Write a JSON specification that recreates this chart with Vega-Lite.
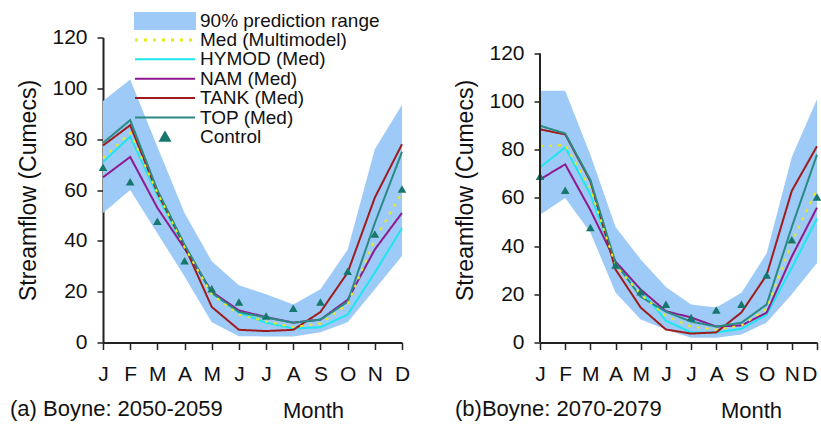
{
  "$schema": "https://vega.github.io/schema/vega-lite/v6.json",
  "background": "white",
  "padding": {"left": 10, "top": 11.5, "right": 0, "bottom": 0},
  "config": {
    "font": "Liberation Sans",
    "view": {"stroke": null},
    "axis": {"domainColor": "#222222", "domainWidth": 2, "tickColor": "#222222", "tickWidth": 1.5, "labelColor": "#111111", "titleColor": "#111111", "labelFont": "Liberation Sans", "titleFont": "Liberation Sans", "titleFontWeight": "normal", "grid": false, "labelOverlap": false},
    "title": {"font": "Liberation Sans", "fontSize": 22, "fontWeight": "normal", "color": "#111111"},
    "legend": {"orient": "none", "legendX": 31, "legendY": -25.5, "title": null, "padding": 0, "symbolSize": 3600, "symbolStrokeWidth": 2, "clipHeight": 17, "rowPadding": -0.6, "labelFontSize": 19, "labelFont": "Liberation Sans", "labelColor": "#111111", "symbolOffset": 21.5, "labelOffset": 25.5, "labelLimit": 400}
  },
  "datasets": {
    "band": [
      {"panel": "a", "month": 1, "lo": 51, "hi": 95},
      {"panel": "a", "month": 2, "lo": 60, "hi": 103.5},
      {"panel": "a", "month": 3, "lo": 43, "hi": 77},
      {"panel": "a", "month": 4, "lo": 26, "hi": 51},
      {"panel": "a", "month": 5, "lo": 8, "hi": 32},
      {"panel": "a", "month": 6, "lo": 2.5, "hi": 22.5},
      {"panel": "a", "month": 7, "lo": 2.4, "hi": 19},
      {"panel": "a", "month": 8, "lo": 2.4, "hi": 15},
      {"panel": "a", "month": 9, "lo": 4, "hi": 21},
      {"panel": "a", "month": 10, "lo": 8, "hi": 36.5},
      {"panel": "a", "month": 11, "lo": 21, "hi": 76},
      {"panel": "a", "month": 12, "lo": 34, "hi": 93.5},
      {"panel": "b", "month": 1, "lo": 53, "hi": 104.5},
      {"panel": "b", "month": 2, "lo": 60, "hi": 104.5},
      {"panel": "b", "month": 3, "lo": 45.7, "hi": 78},
      {"panel": "b", "month": 4, "lo": 20.8, "hi": 48},
      {"panel": "b", "month": 5, "lo": 9.5, "hi": 34.5},
      {"panel": "b", "month": 6, "lo": 5.4, "hi": 23},
      {"panel": "b", "month": 7, "lo": 2, "hi": 15.8},
      {"panel": "b", "month": 8, "lo": 2, "hi": 14.5},
      {"panel": "b", "month": 9, "lo": 3.3, "hi": 20.7},
      {"panel": "b", "month": 10, "lo": 8.3, "hi": 37},
      {"panel": "b", "month": 11, "lo": 20, "hi": 77},
      {"panel": "b", "month": 12, "lo": 33, "hi": 101}
    ],
    "control": [
      {"month": 1, "value": 69},
      {"month": 2, "value": 63.2},
      {"month": 3, "value": 47.7},
      {"month": 4, "value": 32.2},
      {"month": 5, "value": 21.1},
      {"month": 6, "value": 15.9},
      {"month": 7, "value": 10.4},
      {"month": 8, "value": 13.5},
      {"month": 9, "value": 15.9},
      {"month": 10, "value": 28},
      {"month": 11, "value": 42.7},
      {"month": 12, "value": 60.4}
    ],
    "lines": [
      {"panel": "a", "series": "HYMOD (Med)", "month": 1, "value": 71},
      {"panel": "a", "series": "HYMOD (Med)", "month": 2, "value": 81},
      {"panel": "a", "series": "HYMOD (Med)", "month": 3, "value": 58},
      {"panel": "a", "series": "HYMOD (Med)", "month": 4, "value": 37},
      {"panel": "a", "series": "HYMOD (Med)", "month": 5, "value": 19.5},
      {"panel": "a", "series": "HYMOD (Med)", "month": 6, "value": 11.8},
      {"panel": "a", "series": "HYMOD (Med)", "month": 7, "value": 7.8},
      {"panel": "a", "series": "HYMOD (Med)", "month": 8, "value": 5.5},
      {"panel": "a", "series": "HYMOD (Med)", "month": 9, "value": 6},
      {"panel": "a", "series": "HYMOD (Med)", "month": 10, "value": 11},
      {"panel": "a", "series": "HYMOD (Med)", "month": 11, "value": 27.5},
      {"panel": "a", "series": "HYMOD (Med)", "month": 12, "value": 45},
      {"panel": "a", "series": "NAM (Med)", "month": 1, "value": 65},
      {"panel": "a", "series": "NAM (Med)", "month": 2, "value": 73},
      {"panel": "a", "series": "NAM (Med)", "month": 3, "value": 53},
      {"panel": "a", "series": "NAM (Med)", "month": 4, "value": 37},
      {"panel": "a", "series": "NAM (Med)", "month": 5, "value": 20},
      {"panel": "a", "series": "NAM (Med)", "month": 6, "value": 12.6},
      {"panel": "a", "series": "NAM (Med)", "month": 7, "value": 10},
      {"panel": "a", "series": "NAM (Med)", "month": 8, "value": 7.8},
      {"panel": "a", "series": "NAM (Med)", "month": 9, "value": 9},
      {"panel": "a", "series": "NAM (Med)", "month": 10, "value": 16.8},
      {"panel": "a", "series": "NAM (Med)", "month": 11, "value": 36.6},
      {"panel": "a", "series": "NAM (Med)", "month": 12, "value": 51},
      {"panel": "a", "series": "TANK (Med)", "month": 1, "value": 77.5},
      {"panel": "a", "series": "TANK (Med)", "month": 2, "value": 85.5},
      {"panel": "a", "series": "TANK (Med)", "month": 3, "value": 59},
      {"panel": "a", "series": "TANK (Med)", "month": 4, "value": 38},
      {"panel": "a", "series": "TANK (Med)", "month": 5, "value": 14},
      {"panel": "a", "series": "TANK (Med)", "month": 6, "value": 5},
      {"panel": "a", "series": "TANK (Med)", "month": 7, "value": 4.5},
      {"panel": "a", "series": "TANK (Med)", "month": 8, "value": 5},
      {"panel": "a", "series": "TANK (Med)", "month": 9, "value": 12},
      {"panel": "a", "series": "TANK (Med)", "month": 10, "value": 27.5},
      {"panel": "a", "series": "TANK (Med)", "month": 11, "value": 57},
      {"panel": "a", "series": "TANK (Med)", "month": 12, "value": 78},
      {"panel": "a", "series": "TOP (Med)", "month": 1, "value": 78.5},
      {"panel": "a", "series": "TOP (Med)", "month": 2, "value": 87.5},
      {"panel": "a", "series": "TOP (Med)", "month": 3, "value": 60},
      {"panel": "a", "series": "TOP (Med)", "month": 4, "value": 38.5},
      {"panel": "a", "series": "TOP (Med)", "month": 5, "value": 19.5},
      {"panel": "a", "series": "TOP (Med)", "month": 6, "value": 12},
      {"panel": "a", "series": "TOP (Med)", "month": 7, "value": 9.8},
      {"panel": "a", "series": "TOP (Med)", "month": 8, "value": 7.8},
      {"panel": "a", "series": "TOP (Med)", "month": 9, "value": 9},
      {"panel": "a", "series": "TOP (Med)", "month": 10, "value": 16},
      {"panel": "a", "series": "TOP (Med)", "month": 11, "value": 47},
      {"panel": "a", "series": "TOP (Med)", "month": 12, "value": 75},
      {"panel": "a", "series": "Med (Multimodel)", "month": 1, "value": 72.5},
      {"panel": "a", "series": "Med (Multimodel)", "month": 2, "value": 82.5},
      {"panel": "a", "series": "Med (Multimodel)", "month": 3, "value": 59},
      {"panel": "a", "series": "Med (Multimodel)", "month": 4, "value": 37.5},
      {"panel": "a", "series": "Med (Multimodel)", "month": 5, "value": 19},
      {"panel": "a", "series": "Med (Multimodel)", "month": 6, "value": 11},
      {"panel": "a", "series": "Med (Multimodel)", "month": 7, "value": 8.3},
      {"panel": "a", "series": "Med (Multimodel)", "month": 8, "value": 6},
      {"panel": "a", "series": "Med (Multimodel)", "month": 9, "value": 7.5},
      {"panel": "a", "series": "Med (Multimodel)", "month": 10, "value": 15},
      {"panel": "a", "series": "Med (Multimodel)", "month": 11, "value": 40.5},
      {"panel": "a", "series": "Med (Multimodel)", "month": 12, "value": 59},
      {"panel": "b", "series": "HYMOD (Med)", "month": 1, "value": 72.7},
      {"panel": "b", "series": "HYMOD (Med)", "month": 2, "value": 81},
      {"panel": "b", "series": "HYMOD (Med)", "month": 3, "value": 61.5},
      {"panel": "b", "series": "HYMOD (Med)", "month": 4, "value": 32.5},
      {"panel": "b", "series": "HYMOD (Med)", "month": 5, "value": 22},
      {"panel": "b", "series": "HYMOD (Med)", "month": 6, "value": 9},
      {"panel": "b", "series": "HYMOD (Med)", "month": 7, "value": 4.2},
      {"panel": "b", "series": "HYMOD (Med)", "month": 8, "value": 4.2},
      {"panel": "b", "series": "HYMOD (Med)", "month": 9, "value": 5.7},
      {"panel": "b", "series": "HYMOD (Med)", "month": 10, "value": 11.6},
      {"panel": "b", "series": "HYMOD (Med)", "month": 11, "value": 31},
      {"panel": "b", "series": "HYMOD (Med)", "month": 12, "value": 51.5},
      {"panel": "b", "series": "NAM (Med)", "month": 1, "value": 67.7},
      {"panel": "b", "series": "NAM (Med)", "month": 2, "value": 74},
      {"panel": "b", "series": "NAM (Med)", "month": 3, "value": 55},
      {"panel": "b", "series": "NAM (Med)", "month": 4, "value": 33.6},
      {"panel": "b", "series": "NAM (Med)", "month": 5, "value": 22},
      {"panel": "b", "series": "NAM (Med)", "month": 6, "value": 13},
      {"panel": "b", "series": "NAM (Med)", "month": 7, "value": 10.4},
      {"panel": "b", "series": "NAM (Med)", "month": 8, "value": 6.6},
      {"panel": "b", "series": "NAM (Med)", "month": 9, "value": 7.1},
      {"panel": "b", "series": "NAM (Med)", "month": 10, "value": 12.4},
      {"panel": "b", "series": "NAM (Med)", "month": 11, "value": 35.7},
      {"panel": "b", "series": "NAM (Med)", "month": 12, "value": 56},
      {"panel": "b", "series": "TANK (Med)", "month": 1, "value": 88.5},
      {"panel": "b", "series": "TANK (Med)", "month": 2, "value": 86.4},
      {"panel": "b", "series": "TANK (Med)", "month": 3, "value": 67},
      {"panel": "b", "series": "TANK (Med)", "month": 4, "value": 30.3},
      {"panel": "b", "series": "TANK (Med)", "month": 5, "value": 14.5},
      {"panel": "b", "series": "TANK (Med)", "month": 6, "value": 5.4},
      {"panel": "b", "series": "TANK (Med)", "month": 7, "value": 3.7},
      {"panel": "b", "series": "TANK (Med)", "month": 8, "value": 4.2},
      {"panel": "b", "series": "TANK (Med)", "month": 9, "value": 12.5},
      {"panel": "b", "series": "TANK (Med)", "month": 10, "value": 28},
      {"panel": "b", "series": "TANK (Med)", "month": 11, "value": 63},
      {"panel": "b", "series": "TANK (Med)", "month": 12, "value": 81.5},
      {"panel": "b", "series": "TOP (Med)", "month": 1, "value": 90},
      {"panel": "b", "series": "TOP (Med)", "month": 2, "value": 86.8},
      {"panel": "b", "series": "TOP (Med)", "month": 3, "value": 67.5},
      {"panel": "b", "series": "TOP (Med)", "month": 4, "value": 33},
      {"panel": "b", "series": "TOP (Med)", "month": 5, "value": 19},
      {"panel": "b", "series": "TOP (Med)", "month": 6, "value": 12.8},
      {"panel": "b", "series": "TOP (Med)", "month": 7, "value": 8.7},
      {"panel": "b", "series": "TOP (Med)", "month": 8, "value": 6.6},
      {"panel": "b", "series": "TOP (Med)", "month": 9, "value": 8.2},
      {"panel": "b", "series": "TOP (Med)", "month": 10, "value": 15.8},
      {"panel": "b", "series": "TOP (Med)", "month": 11, "value": 48},
      {"panel": "b", "series": "TOP (Med)", "month": 12, "value": 78},
      {"panel": "b", "series": "Med (Multimodel)", "month": 1, "value": 81.5},
      {"panel": "b", "series": "Med (Multimodel)", "month": 2, "value": 82},
      {"panel": "b", "series": "Med (Multimodel)", "month": 3, "value": 64},
      {"panel": "b", "series": "Med (Multimodel)", "month": 4, "value": 32},
      {"panel": "b", "series": "Med (Multimodel)", "month": 5, "value": 20},
      {"panel": "b", "series": "Med (Multimodel)", "month": 6, "value": 11},
      {"panel": "b", "series": "Med (Multimodel)", "month": 7, "value": 6.6},
      {"panel": "b", "series": "Med (Multimodel)", "month": 8, "value": 5.4},
      {"panel": "b", "series": "Med (Multimodel)", "month": 9, "value": 7},
      {"panel": "b", "series": "Med (Multimodel)", "month": 10, "value": 14},
      {"panel": "b", "series": "Med (Multimodel)", "month": 11, "value": 41.5},
      {"panel": "b", "series": "Med (Multimodel)", "month": 12, "value": 64}
    ],
    "axisline": [{"month": 1, "lo": 0, "hi": 120}]
  },
  "bounds": "flush",
  "spacing": 138,
  "resolve": {"scale": {"color": "independent"}},
  "hconcat": [
    {
      "width": 299,
      "height": 305,
      "title": {"text": "(a) Boyne: 2050-2059", "orient": "bottom", "anchor": "start", "frame": "group", "dx": -93, "dy": -27},
      "layer": [
        {
          "data": {"name": "band"},
          "transform": [{"filter": "datum.panel === 'a'"}],
          "mark": {"type": "area", "opacity": 1, "color": "#9dcaf6"},
          "encoding": {
            "x": {"field": "month", "type": "ordinal", "scale": {"type": "point", "padding": 0, "domain": [1,2,3,4,5,6,7,8,9,10,11,12]},
              "axis": {"labelExpr": "['J','F','M','A','M','J','J','A','S','O','N','D'][datum.value-1]", "labelAngle": 0, "labelOverlap": false, "title": "Month", "titleX": 210, "titleY": 58, "titleBaseline": "top", "titleAlign": "center", "titleFontSize": 22, "labelFontSize": 21, "labelPadding": 14, "tickSize": 7}},
            "y": {"field": "lo", "type": "quantitative", "scale": {"domain": [0, 120], "nice": false},
              "axis": {"values": [0,20,40,60,80,100,120], "title": "Streamflow (Cumecs)", "titleFontSize": 23, "titlePadding": 11, "labelFontSize": 21, "labelPadding": 10, "tickSize": 6}},
            "y2": {"field": "hi"}
          }
        },
        {
          "data": {"name": "lines"},
          "transform": [{"filter": "datum.panel === 'a'"}],
          "mark": {"type": "line", "strokeWidth": 2},
          "encoding": {
            "x": {"field": "month", "type": "ordinal"},
            "y": {"field": "value", "type": "quantitative"},
            "color": {"field": "series", "type": "nominal", "title": null,
              "scale": {"domain": ["90% prediction range", "Med (Multimodel)", "HYMOD (Med)", "NAM (Med)", "TANK (Med)", "TOP (Med)", "Control"], "range": ["#9dcaf6", "#eaea1a", "#1ee6ee", "#8f1a8f", "#a01c1c", "#2a8a84", "#17776d"]},
              "legend": {"title": null, "labelFontSize": 19,
                "encode": {"symbols": {"update": {
                  "size": {"value": 3600},
                  "shape": {"signal": "datum.value === '90% prediction range' ? 'M-1,-0.2833H1V0.2833H-1Z' : datum.value === 'Control' ? 'M0,-0.15L0.16,0.13L-0.16,0.13Z' : 'stroke'"},
                  "fill": {"signal": "datum.value === '90% prediction range' ? '#9dcaf6' : datum.value === 'Control' ? '#17776d' : 'transparent'"},
                  "stroke": {"signal": "datum.value === 'Med (Multimodel)' ? '#eaea1a' : datum.value === 'HYMOD (Med)' ? '#1ee6ee' : datum.value === 'NAM (Med)' ? '#8f1a8f' : datum.value === 'TANK (Med)' ? '#a01c1c' : datum.value === 'TOP (Med)' ? '#2a8a84' : 'transparent'"},
                  "strokeDash": {"signal": "datum.value === 'Med (Multimodel)' ? [3, 6] : [1, 0]"},
                  "strokeWidth": {"signal": "datum.value === 'Med (Multimodel)' ? 3 : 2"},
                  "opacity": {"value": 1}
                }}}}},
            "strokeDash": {"condition": {"test": "datum.series === 'Med (Multimodel)'", "value": [3, 6]}, "value": [1, 0]},
            "strokeWidth": {"condition": {"test": "datum.series === 'Med (Multimodel)'", "value": 3}, "value": 2}
          }
        },
        {
          "data": {"name": "control"},
          "mark": {"type": "point", "shape": "triangle-up", "filled": true, "size": 75, "opacity": 1, "color": "#17776d"},
          "encoding": {
            "x": {"field": "month", "type": "ordinal"},
            "y": {"field": "value", "type": "quantitative"}
          }
        }
      ]
    },
    {
      "width": 277,
      "height": 305,
      "title": {"text": "(b)Boyne: 2070-2079", "orient": "bottom", "anchor": "start", "frame": "group", "dx": -85, "dy": -27},
      "layer": [
        {
          "data": {"name": "band"},
          "transform": [{"filter": "datum.panel === 'b'"}],
          "mark": {"type": "area", "opacity": 1, "color": "#9dcaf6"},
          "encoding": {
            "x": {"field": "month", "type": "ordinal", "scale": {"type": "point", "padding": 0, "domain": [1,2,3,4,5,6,7,8,9,10,11,12]},
              "axis": {"labelExpr": "['J','F','M','A','M','J','J','A','S','O','N','D'][datum.value-1]", "labelAngle": 0, "labelOverlap": false, "labelAlign": {"condition": {"test": "datum.value === 12", "value": "right"}, "value": "center"}, "title": "Month", "titleX": 211, "titleY": 58, "titleBaseline": "top", "titleAlign": "center", "titleFontSize": 22, "labelFontSize": 21, "labelPadding": 14, "tickSize": 7}},
            "y": {"field": "lo", "type": "quantitative", "scale": {"domain": [0, 126.64], "nice": false},
              "axis": {"values": [0,20,40,60,80,100,120], "domain": false, "title": "Streamflow (Cumecs)", "titleFontSize": 23, "titlePadding": 11, "labelFontSize": 21, "labelPadding": 10, "tickSize": 6}},
            "y2": {"field": "hi"}
          }
        },
        {
          "data": {"name": "lines"},
          "transform": [{"filter": "datum.panel === 'b'"}],
          "mark": {"type": "line", "strokeWidth": 2},
          "encoding": {
            "x": {"field": "month", "type": "ordinal"},
            "y": {"field": "value", "type": "quantitative"},
            "color": {"field": "series", "type": "nominal", "legend": null,
              "scale": {"domain": ["90% prediction range", "Med (Multimodel)", "HYMOD (Med)", "NAM (Med)", "TANK (Med)", "TOP (Med)", "Control"], "range": ["#9dcaf6", "#eaea1a", "#1ee6ee", "#8f1a8f", "#a01c1c", "#2a8a84", "#17776d"]}},
            "strokeDash": {"condition": {"test": "datum.series === 'Med (Multimodel)'", "value": [3, 6]}, "value": [1, 0]},
            "strokeWidth": {"condition": {"test": "datum.series === 'Med (Multimodel)'", "value": 3}, "value": 2}
          }
        },
        {
          "data": {"name": "control"},
          "mark": {"type": "point", "shape": "triangle-up", "filled": true, "size": 75, "opacity": 1, "color": "#17776d"},
          "encoding": {
            "x": {"field": "month", "type": "ordinal"},
            "y": {"field": "value", "type": "quantitative"}
          }
        },
        {
          "data": {"name": "axisline"},
          "mark": {"type": "rule", "color": "#222222", "strokeWidth": 2},
          "encoding": {
            "x": {"field": "month", "type": "ordinal"},
            "y": {"field": "lo", "type": "quantitative"},
            "y2": {"field": "hi"}
          }
        }
      ]
    }
  ]
}
